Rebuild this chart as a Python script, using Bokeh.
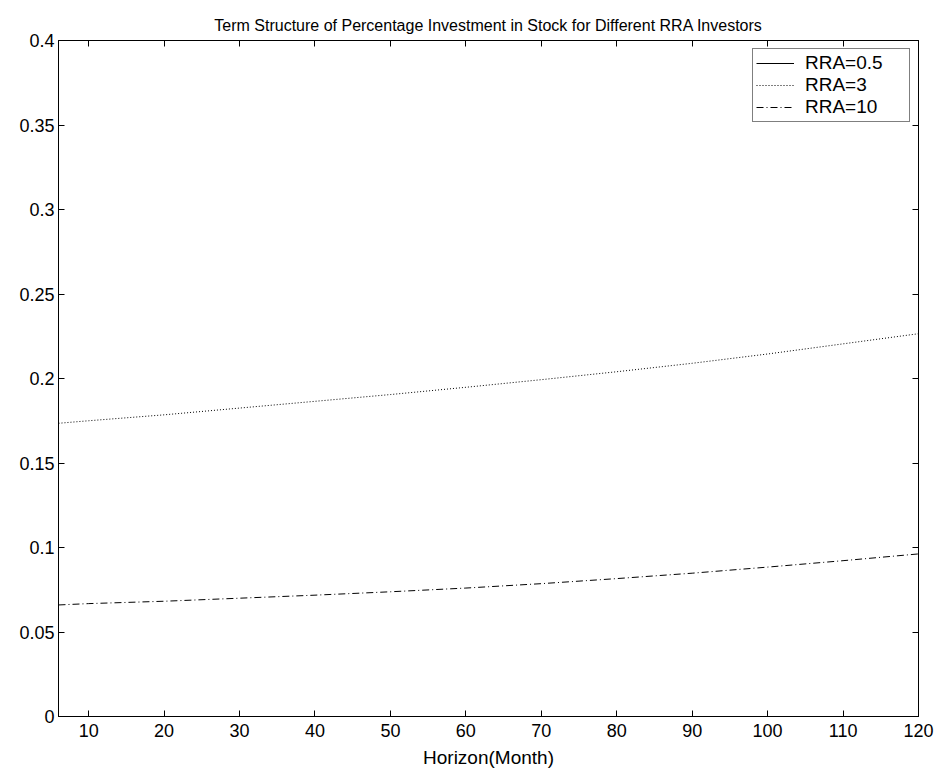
from bokeh.plotting import figure
from bokeh.models import Range1d, LinearAxis, FixedTicker, CustomJSTickFormatter, Legend, LegendItem
from bokeh.embed import file_html
from bokeh.resources import INLINE

# ---- data ----
horizon = [6, 10, 20, 30, 40, 50, 60, 70, 80, 90, 100, 110, 120]
rra_05 = [0.62, 0.63, 0.65, 0.67, 0.69, 0.71, 0.73, 0.75, 0.77, 0.79, 0.81, 0.83, 0.85]  # off-scale (above 0.4)
rra_3 = [0.1735, 0.1750, 0.1785, 0.1825, 0.1865, 0.1905, 0.1948, 0.1993, 0.2040, 0.2090, 0.2145, 0.2205, 0.2265]
rra_10 = [0.0660, 0.0668, 0.0682, 0.0700, 0.0718, 0.0738, 0.0760, 0.0786, 0.0816, 0.0848, 0.0884, 0.0922, 0.0962]

x_ticks = [10, 20, 30, 40, 50, 60, 70, 80, 90, 100, 110, 120]
y_ticks = [0, 0.05, 0.1, 0.15, 0.2, 0.25, 0.3, 0.35, 0.4]
y_tick_labels = ["0", "0.05", "0.1", "0.15", "0.2", "0.25", "0.3", "0.35", "0.4"]
x_tick_labels = [str(t) for t in x_ticks]
title_text = "Term Structure of Percentage Investment in Stock for Different RRA Investors"

FONT = "Liberation Sans"

p = figure(width=936, height=770, output_backend="svg", toolbar_location=None,
           x_range=Range1d(6, 120), y_range=Range1d(0, 0.4),
           min_border_left=58, min_border_right=18, min_border_top=40, min_border_bottom=54,
           background_fill_color="white", border_fill_color="white")

p.title.text = title_text
p.title.align = "center"
p.title.vertical_align = "top"
p.title.text_font = FONT
p.title.text_font_size = "16px"
p.title.text_font_style = "normal"
p.title.text_color = "black"
p.title.standoff = 10

p.xgrid.visible = False
p.ygrid.visible = False
p.outline_line_color = "black"
p.outline_line_width = 1

def style_axis(ax, show_labels):
    ax.axis_line_color = "black"
    ax.major_tick_line_color = "black"
    ax.major_tick_in = 6
    ax.major_tick_out = 0
    ax.minor_tick_line_color = None
    ax.major_label_text_font = FONT
    ax.major_label_text_font_size = "18px" if show_labels else "0px"
    ax.major_label_text_color = "black"
    if not show_labels:
        ax.major_label_standoff = 0
        ax.formatter = CustomJSTickFormatter(code="return '';")

xax = p.xaxis[0]
yax = p.yaxis[0]
xax.ticker = FixedTicker(ticks=x_ticks)
yax.ticker = FixedTicker(ticks=y_ticks)
xax.major_label_overrides = {t: l for t, l in zip(x_ticks, x_tick_labels)}
yax.major_label_overrides = {t: l for t, l in zip(y_ticks, y_tick_labels)}
style_axis(xax, True)
style_axis(yax, True)
xax.major_label_standoff = 7
yax.major_label_standoff = 4
xax.axis_label = "Horizon(Month)"
xax.axis_label_text_font = FONT
xax.axis_label_text_font_size = "19px"
xax.axis_label_text_font_style = "normal"
xax.axis_label_text_color = "black"
xax.axis_label_standoff = 7

top = LinearAxis(ticker=FixedTicker(ticks=x_ticks))
right = LinearAxis(ticker=FixedTicker(ticks=y_ticks))
style_axis(top, False)
style_axis(right, False)
p.add_layout(top, "above")
p.add_layout(right, "right")

r1 = p.line(horizon, rra_05, line_color="black", line_width=1)
r2 = p.line(horizon, rra_3, line_color="black", line_width=1, line_dash="1 2")
r3 = p.line(horizon, rra_10, line_color="black", line_width=1, line_dash="7 3 1 3")

legend = Legend(items=[LegendItem(label="RRA=0.5", renderers=[r1]),
                       LegendItem(label="RRA=3", renderers=[r2]),
                       LegendItem(label="RRA=10", renderers=[r3])],
                location="top_right")
legend.margin = 8
legend.padding = 3
legend.spacing = 0
legend.glyph_width = 38
legend.glyph_height = 20
legend.label_height = 20
legend.label_width = 101
legend.label_standoff = 11
legend.label_text_font = FONT
legend.label_text_font_size = "19px"
legend.label_text_color = "black"
legend.border_line_color = "black"
legend.border_line_width = 1
legend.background_fill_color = "white"
legend.background_fill_alpha = 1
p.add_layout(legend, "center")

open("out.html", "w").write(file_html(p, INLINE))
